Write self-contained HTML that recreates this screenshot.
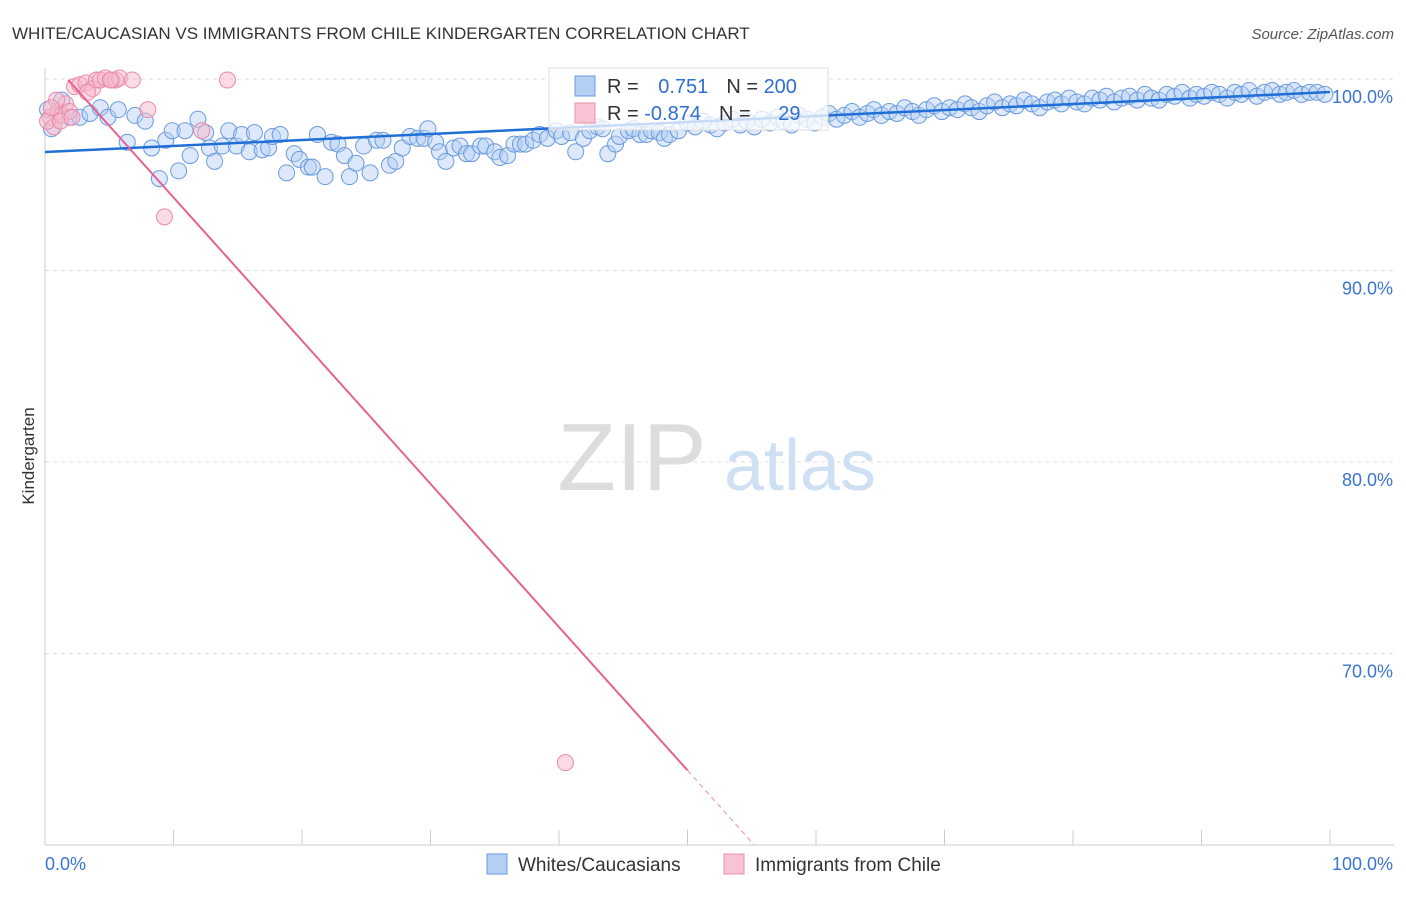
<!DOCTYPE html>
<html><head><meta charset="utf-8"><style>
body{margin:0;background:#fff;font-family:"Liberation Sans",sans-serif;}
svg text{font-family:"Liberation Sans",sans-serif;}
</style></head><body>
<svg width="1406" height="892" xmlns="http://www.w3.org/2000/svg" id="chart">
<text x="12" y="39" font-size="17" fill="#333">WHITE/CAUCASIAN VS IMMIGRANTS FROM CHILE KINDERGARTEN CORRELATION CHART</text>
<text x="1394" y="39" font-size="15" fill="#555" text-anchor="end" font-style="italic">Source: ZipAtlas.com</text>
<g id="grid"></g>
<g id="axes"></g>
<text x="632" y="490" font-size="96" fill="#ddd" font-family="Liberation Serif" text-anchor="middle">ZIP</text>
<text x="800" y="490" font-size="72" fill="#cfe0f5" text-anchor="middle">atlas</text>
<g id="blue"></g>
<g id="pink"></g>
<g id="lines"></g>
<g>
<rect x="549" y="68" width="279" height="62" fill="#fff" fill-opacity="0.75" stroke="#ddd"/>
<rect x="575" y="76" width="20" height="20" fill="#b3cff3" stroke="#6a9ae0"/>
<text x="607" y="93" font-size="20" fill="#333">R = <tspan fill="#2f6fd0" dx="14">0.751</tspan><tspan dx="18" fill="#333">N = </tspan><tspan fill="#2f6fd0">200</tspan></text>
<rect x="575" y="103" width="20" height="20" fill="#f8c4d4" stroke="#e990ad"/>
<text x="607" y="120" font-size="20" fill="#333">R = <tspan fill="#2f6fd0">-0.874</tspan><tspan dx="18" fill="#333">N = </tspan><tspan fill="#2f6fd0" dx="22">29</tspan></text>
</g>
<text transform="translate(34,456) rotate(-90)" font-size="17" fill="#333" text-anchor="middle">Kindergarten</text>
<g>
<rect x="487" y="854" width="20" height="20" fill="#b3cff3" stroke="#6a9ae0"/>
<text x="518" y="871" font-size="19" fill="#333">Whites/Caucasians</text>
<rect x="724" y="854" width="20" height="20" fill="#f8c4d4" stroke="#e990ad"/>
<text x="755" y="871" font-size="19" fill="#333">Immigrants from Chile</text>
</g>
</svg>
<script>
const yTicks=[100,90,80,70];
const yTickLabels=["100.0%","90.0%","80.0%","70.0%"];
const xTickLabels=["0.0%","100.0%"];
const blueX=[0.2,0.5,1.3,1.9,2.7,3.5,4.3,4.9,5.7,6.4,7.0,7.8,8.3,8.9,9.4,9.9,10.4,10.9,11.3,11.9,12.5,12.8,13.2,13.8,14.3,14.9,15.3,15.9,16.3,16.9,17.4,17.7,18.3,18.8,19.4,19.8,20.5,20.8,21.2,21.8,22.3,22.8,23.3,23.7,24.2,24.8,25.3,25.8,26.3,26.8,27.3,27.8,28.4,29.0,29.5,29.8,30.4,30.7,31.2,31.8,32.3,32.8,33.2,33.9,34.3,35.0,35.4,36.0,36.5,37.0,37.4,38.0,38.5,39.1,39.8,40.2,40.9,41.3,41.9,42.4,43.0,43.4,43.8,44.4,44.7,45.4,45.8,46.3,46.8,47.2,47.8,48.2,48.6,49.3,
50,50.6,51.2,51.8,52.3,52.9,53.5,54.1,54.6,55.2,55.8,56.4,57,57.5,58.1,58.7,59.3,59.9,60.5,61,61.6,62.2,62.8,63.4,64,64.5,65.1,65.7,66.3,66.9,67.5,68,68.6,69.2,69.8,70.4,71,71.6,72.1,72.7,73.3,73.9,74.5,75.1,75.6,76.2,76.8,77.4,78,78.6,79.1,79.7,80.3,80.9,81.5,82.1,82.6,83.2,83.8,84.4,85,85.6,86.1,86.7,87.3,87.9,88.5,89.1,89.6,90.2,90.8,91.4,92,92.6,93.1,93.7,94.3,94.9,95.5,96.1,96.6,97.2,97.8,98.4,99,99.6];
const blueY=[98.4,97.4,98.9,98.0,98.0,98.2,98.5,98.0,98.4,96.7,98.1,97.8,96.4,94.8,96.8,97.3,95.2,97.3,96.0,97.9,97.2,96.4,95.7,96.5,97.3,96.5,97.1,96.2,97.2,96.3,96.4,97.0,97.1,95.1,96.1,95.8,95.4,95.4,97.1,94.9,96.7,96.6,96.0,94.9,95.6,96.5,95.1,96.8,96.8,95.5,95.7,96.4,97.0,96.9,96.9,97.4,96.7,96.2,95.7,96.4,96.5,96.1,96.1,96.5,96.5,96.2,95.9,96.0,96.6,96.6,96.6,96.8,97.1,96.9,97.3,97.0,97.2,96.2,96.9,97.3,97.5,97.4,96.1,96.6,97.0,97.3,97.4,97.1,97.1,97.3,97.2,96.9,97.1,97.3,
97.7,97.5,97.8,97.6,97.4,97.7,97.9,97.6,97.8,97.5,97.9,97.7,98.0,97.8,97.6,98.1,97.9,97.7,98.0,98.2,97.9,98.1,98.3,98.0,98.2,98.4,98.1,98.3,98.2,98.5,98.3,98.1,98.4,98.6,98.3,98.5,98.4,98.7,98.5,98.3,98.6,98.8,98.5,98.7,98.6,98.9,98.7,98.5,98.8,98.9,98.7,99.0,98.8,98.7,99.0,98.9,99.1,98.8,99.0,99.1,98.9,99.2,99.0,98.9,99.2,99.1,99.3,99.0,99.2,99.1,99.3,99.2,99.0,99.3,99.2,99.4,99.1,99.3,99.4,99.2,99.3,99.4,99.2,99.3,99.3,99.2,99.4,99.3];
const pinkX=[0.4,0.7,1.0,1.3,1.6,1.9,2.3,2.7,3.2,3.7,4.0,4.3,4.7,5.2,5.5,5.8,6.8,8.0,9.3,12.2,14.2,40.5,0.9,0.2,1.2,2.1,3.3,5.1,0.5];
const pinkY=[98.0,97.5,98.3,98.1,98.7,98.3,99.6,99.7,99.8,99.5,99.95,99.95,100.05,99.95,99.95,100.05,99.95,98.4,92.8,97.3,99.95,64.3,98.9,97.8,97.8,98.0,99.3,99.95,98.5];
const blueTrend=[[0,96.19],[100,99.32]];
const pinkTrend=[[1.8,99.95],[50,63.9]];
const pinkDash=[[50,63.9],[55.2,60]];

const X0=45,X1=1330,Y100=79,PX10=191.5;
const sx=v=>X0+(X1-X0)*v/100;
const sy=v=>Y100+(100-v)*PX10/10;
const NS="http://www.w3.org/2000/svg";
function mk(tag,attrs,parent){const e=document.createElementNS(NS,tag);for(const k in attrs)e.setAttribute(k,attrs[k]);parent.appendChild(e);return e;}
const grid=document.getElementById('grid'),axes=document.getElementById('axes');
yTicks.forEach((t,i)=>{
  const l=mk('line',{x1:45,x2:1394,y1:sy(t),y2:sy(t),stroke:'#ddd','stroke-dasharray':'4,4'},grid);
  
  
  const tx=mk('text',{x:1393,y:sy(t)+24,'font-size':18,fill:'#3a75d0','text-anchor':'end'},axes);
  tx.textContent=yTickLabels[i];
  
  
});
mk('line',{x1:45,x2:45,y1:68,y2:845,stroke:'#ccc'},axes);
mk('line',{x1:45,x2:1394,y1:845,y2:845,stroke:'#ccc'},axes);
for(let i=0;i<=10;i++){const tk=mk('line',{x1:sx(i*10),x2:sx(i*10),y1:830,y2:845,stroke:'#ccc'},axes);
  
  }
const xl0=mk('text',{x:45,y:870,'font-size':18,fill:'#3a75d0'},axes);xl0.textContent=xTickLabels[0];


const xl1=mk('text',{x:1393,y:870,'font-size':18,fill:'#3a75d0','text-anchor':'end'},axes);xl1.textContent=xTickLabels[1];


const bg=document.getElementById('blue');
const nB=Math.min(blueX.length,blueY.length);
for(let i=0;i<nB;i++){const c=mk('circle',{cx:sx(blueX[i]),cy:sy(blueY[i]),r:8,fill:'#b3cff3','fill-opacity':0.45,stroke:'#6a9ae0','stroke-width':1},bg);
  
  }
const pg=document.getElementById('pink');
pinkX.forEach((x,i)=>{const c=mk('circle',{cx:sx(x),cy:sy(pinkY[i]),r:8,fill:'#f7b8cc','fill-opacity':0.5,stroke:'#e88aa8','stroke-width':1},pg);
  
  });
const lg=document.getElementById('lines');
const bl=mk('line',{x1:sx(blueTrend[0][0]),y1:sy(blueTrend[0][1]),x2:sx(blueTrend[1][0]),y2:sy(blueTrend[1][1]),stroke:'#1f6fd6','stroke-width':2.5},lg);


const pl=mk('line',{x1:sx(pinkTrend[0][0]),y1:sy(pinkTrend[0][1]),x2:sx(pinkTrend[1][0]),y2:sy(pinkTrend[1][1]),stroke:'#e4638f','stroke-width':2},lg);


const pd=mk('line',{x1:sx(pinkDash[0][0]),y1:sy(pinkDash[0][1]),x2:sx(pinkDash[1][0]),y2:sy(pinkDash[1][1]),stroke:'#eea0b8','stroke-width':1.2,'stroke-dasharray':'5,4'},lg);


</script>
</body></html>
